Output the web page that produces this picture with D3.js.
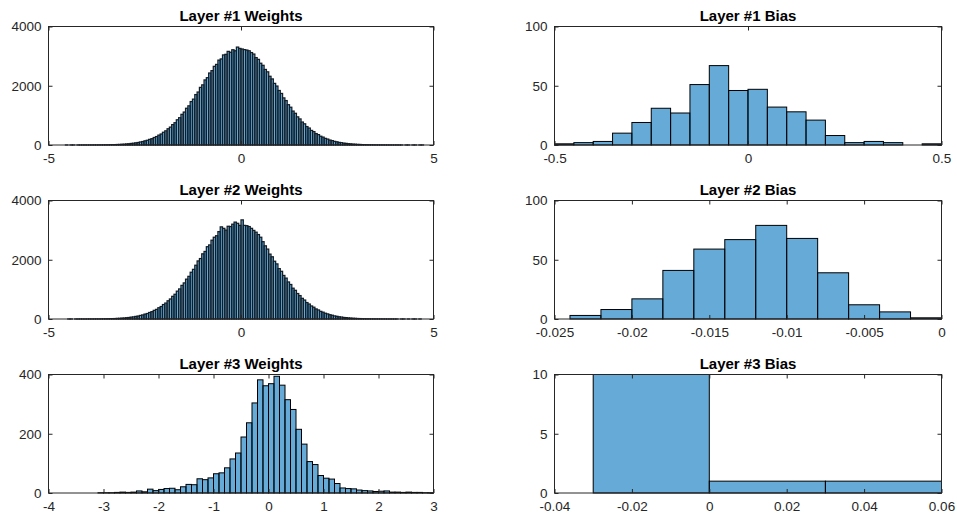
<!DOCTYPE html>
<html>
<head>
<meta charset="utf-8">
<script src="https://cdn.jsdelivr.net/npm/d3@7"></script>
<style>
  html, body { margin: 0; padding: 0; background: #fff; }
  svg { display: block; font-family: "Liberation Sans", Arial, Helvetica, sans-serif; }
</style>
</head>
<body>
<svg id="chart" width="957" height="520"></svg>
<script>
// ---- Histogram data: bin counts, first bin edge and bin width for each panel ----
const layer1WeightCounts = [
  1,0,1,1,0,1,1,1,2,1,2,2,3,3,4,4,5,6,
  7,10,11,12,17,19,25,28,36,41,
  52,60,73,84,102,117,141,160,190,214,
  253,285,333,371,430,478,548,604,688,752,
  851,921,1035,1112,1240,1322,1466,1548,1702,1788,
  1945,2030,2196,2272,2430,2510,2655,2720,2865,2905,
  3040,3060,3160,3130,3215,3180,3305,
  3260,3240,3220,
  3205,3180,3120,3070,2950,2890,2760,2690,2550,2470,
  2320,2230,2080,1990,1840,1740,1590,1500,1360,1275,
  1145,1070,950,880,775,715,622,572,492,452,
  386,350,296,266,224,200,167,148,123,108,
  88,78,62,55,44,39,30,27,20,18,
  13,11,9,7,6,5,4,4,3,3,
  2,2,2,1,1,2,1,1,0,1,
  1,0,1,1,0,1,1
];
const layer1WeightStart = -4.56;
const layer1WeightWidth = 0.06;

const layer2WeightCounts = [
  0,1,1,0,1,1,2,1,1,2,3,2,3,4,3,5,6,
  7,9,12,13,15,21,23,30,34,43,
  50,62,71,87,99,120,137,165,185,220,
  248,292,325,380,421,488,538,615,676,765,
  835,940,1015,1135,1218,1345,1440,1578,1676,1815,
  1960,2040,2200,2280,2440,2500,2660,2760,2810,2950,
  3110,3060,3000,3130,3120,3200,3270,3230,3160,3346,
  3160,3150,3120,3060,2990,2930,2850,2760,
  2610,2470,2360,2190,2100,1950,1860,1700,1610,1470,
  1380,1250,1165,1040,968,860,790,698,640,555,
  505,440,398,340,305,258,230,195,172,144,
  127,104,91,74,66,52,46,37,32,25,
  22,16,14,10,9,7,6,4,
  4,3,3,3,2,2,1,2,1,1,
  1,0,1,1,0,1,0,1,1,0,
  1,0
];
const layer2WeightStart = -4.56;
const layer2WeightWidth = 0.06;

const layer3WeightCounts = [
  1,1,1,2,3,2,3,7,4,13,
  8,12,15,16,11,21,29,28,48,45,
  51,65,68,85,115,135,189,237,304,382,
  362,369,394,364,315,282,215,165,106,96,
  59,50,47,32,17,15,14,10,8,7,
  5,6,7,3,3,2,3,2,2,1,
  1
];
const layer3WeightStart = -3.1;
const layer3WeightWidth = 0.1;

const layer1BiasCounts = [1,2,3,10,19,31,27,51,67,46,47,32,28,21,8,2,3,2,0,1];
const layer1BiasStart = -0.5;
const layer1BiasWidth = 0.05;

const layer2BiasCounts = [3,8,17,41,59,67,79,68,39,12,6,1];
const layer2BiasStart = -0.024;
const layer2BiasWidth = 0.002;

const layer3BiasCounts = [10,1,1];
const layer3BiasStart = -0.03;
const layer3BiasWidth = 0.03;

// ---- Axis ranges and tick labels ----
const weightXTicks = [-5, 0, 5];
const weightXTickLabels = ["-5", "0", "5"];
const weightYTicks = [0, 2000, 4000];
const weightYTickLabels = ["0", "2000", "4000"];

const layer3WeightXTicks = [-4, -3, -2, -1, 0, 1, 2, 3];
const layer3WeightXTickLabels = ["-4", "-3", "-2", "-1", "0", "1", "2", "3"];
const layer3WeightYTicks = [0, 200, 400];
const layer3WeightYTickLabels = ["0", "200", "400"];

const layer1BiasXTicks = [-0.5, 0, 0.5];
const layer1BiasXTickLabels = ["-0.5", "0", "0.5"];
const biasYTicks = [0, 50, 100];
const biasYTickLabels = ["0", "50", "100"];

const layer2BiasXTicks = [-0.025, -0.02, -0.015, -0.01, -0.005, 0];
const layer2BiasXTickLabels = ["-0.025", "-0.02", "-0.015", "-0.01", "-0.005", "0"];

const layer3BiasXTicks = [-0.04, -0.02, 0, 0.02, 0.04, 0.06];
const layer3BiasXTickLabels = ["-0.04", "-0.02", "0", "0.02", "0.04", "0.06"];
const layer3BiasYTicks = [0, 5, 10];
const layer3BiasYTickLabels = ["0", "5", "10"];

const titles = [
  "Layer #1 Weights", "Layer #1 Bias",
  "Layer #2 Weights", "Layer #2 Bias",
  "Layer #3 Weights", "Layer #3 Bias"
];

// ---- Panel definitions ----
const panels = [
  { title: titles[0], counts: layer1WeightCounts, start: layer1WeightStart, width: layer1WeightWidth,
    xDomain: [-5, 5], xTicks: weightXTicks, xLabels: weightXTickLabels,
    yDomain: [0, 4000], yTicks: weightYTicks, yLabels: weightYTickLabels, col: 0, row: 0 },
  { title: titles[1], counts: layer1BiasCounts, start: layer1BiasStart, width: layer1BiasWidth,
    xDomain: [-0.5, 0.5], xTicks: layer1BiasXTicks, xLabels: layer1BiasXTickLabels,
    yDomain: [0, 100], yTicks: biasYTicks, yLabels: biasYTickLabels, col: 1, row: 0 },
  { title: titles[2], counts: layer2WeightCounts, start: layer2WeightStart, width: layer2WeightWidth,
    xDomain: [-5, 5], xTicks: weightXTicks, xLabels: weightXTickLabels,
    yDomain: [0, 4000], yTicks: weightYTicks, yLabels: weightYTickLabels, col: 0, row: 1 },
  { title: titles[3], counts: layer2BiasCounts, start: layer2BiasStart, width: layer2BiasWidth,
    xDomain: [-0.025, 0], xTicks: layer2BiasXTicks, xLabels: layer2BiasXTickLabels,
    yDomain: [0, 100], yTicks: biasYTicks, yLabels: biasYTickLabels, col: 1, row: 1 },
  { title: titles[4], counts: layer3WeightCounts, start: layer3WeightStart, width: layer3WeightWidth,
    xDomain: [-4, 3], xTicks: layer3WeightXTicks, xLabels: layer3WeightXTickLabels,
    yDomain: [0, 400], yTicks: layer3WeightYTicks, yLabels: layer3WeightYTickLabels, col: 0, row: 2 },
  { title: titles[5], counts: layer3BiasCounts, start: layer3BiasStart, width: layer3BiasWidth,
    xDomain: [-0.04, 0.06], xTicks: layer3BiasXTicks, xLabels: layer3BiasXTickLabels,
    yDomain: [0, 10], yTicks: layer3BiasYTicks, yLabels: layer3BiasYTickLabels, col: 1, row: 2 }
];

// ---- Layout of the 3x2 grid ----
const colLeft = [48.5, 554.5];
const colWidth = [385, 387];
const rowTop = [26.5, 200.5, 374.5];
const rowHeight = 118.5;

const axisColor = "#262626";
const barFill = "#0072BD";
const tickLen = 4;

const svg = d3.select("#chart");

panels.forEach((p, i) => {
  const x0 = colLeft[p.col], w = colWidth[p.col];
  const y0 = rowTop[p.row], h = rowHeight;

  const x = d3.scaleLinear().domain(p.xDomain).range([x0, x0 + w]);
  const y = d3.scaleLinear().domain(p.yDomain).range([y0 + h, y0]);

  const g = svg.append("g");

  const clipId = "clip" + i;
  svg.append("clipPath").attr("id", clipId)
    .append("rect").attr("x", x0 - 1).attr("y", y0 - 1).attr("width", w + 2).attr("height", h + 2);

  // histogram bars
  const bins = p.counts.map((c, k) => ({
    lo: p.start + k * p.width,
    hi: p.start + (k + 1) * p.width,
    count: c
  }));

  const dense = p.counts.length > 100;
  g.append("g").attr("clip-path", `url(#${clipId})`)
    .selectAll("rect").data(bins).join("rect")
    .attr("x", d => x(d.lo))
    .attr("width", d => x(d.hi) - x(d.lo))
    .attr("y", d => y(Math.min(d.count, p.yDomain[1])))
    .attr("height", d => y(0) - y(Math.min(d.count, p.yDomain[1])))
    .attr("fill", barFill)
    .attr("fill-opacity", 0.6)
    .attr("stroke", dense ? "#141c24" : "#000")
    .attr("stroke-width", dense ? 1.25 : 1);

  // box
  g.append("rect")
    .attr("x", x0).attr("y", y0).attr("width", w).attr("height", h)
    .attr("fill", "none").attr("stroke", axisColor).attr("stroke-width", 1);

  // bottom and top ticks (inside)
  const xAxisBottom = d3.axisBottom(x).tickValues(p.xTicks)
    .tickSize(-tickLen).tickFormat((d, k) => p.xLabels[k]).tickPadding(8);
  const gx = g.append("g").attr("transform", `translate(0,${y0 + h})`).call(xAxisBottom);
  const xAxisTop = d3.axisTop(x).tickValues(p.xTicks).tickSize(-tickLen).tickFormat("");
  const gxt = g.append("g").attr("transform", `translate(0,${y0})`).call(xAxisTop);

  const yAxisLeft = d3.axisLeft(y).tickValues(p.yTicks)
    .tickSize(-tickLen).tickFormat((d, k) => p.yLabels[k]).tickPadding(7);
  const gy = g.append("g").attr("transform", `translate(${x0},0)`).call(yAxisLeft);
  const yAxisRight = d3.axisRight(y).tickValues(p.yTicks).tickSize(-tickLen).tickFormat("");
  const gyr = g.append("g").attr("transform", `translate(${x0 + w},0)`).call(yAxisRight);

  [gx, gxt, gy, gyr].forEach(a => {
    a.select(".domain").remove();
    a.selectAll(".tick line").attr("stroke", axisColor).attr("stroke-width", 1);
    a.selectAll(".tick text")
      .attr("fill", axisColor)
      .style("font-size", "13.5px")
      .style("font-family", '"Liberation Sans", Arial, Helvetica, sans-serif');
  });

  // title
  g.append("text")
    .attr("x", x0 + w / 2)
    .attr("y", y0 - 6)
    .attr("text-anchor", "middle")
    .style("font-size", "15px")
    .style("font-weight", "bold")
    .attr("fill", "#000")
    .text(p.title);
});
</script>
</body>
</html>
